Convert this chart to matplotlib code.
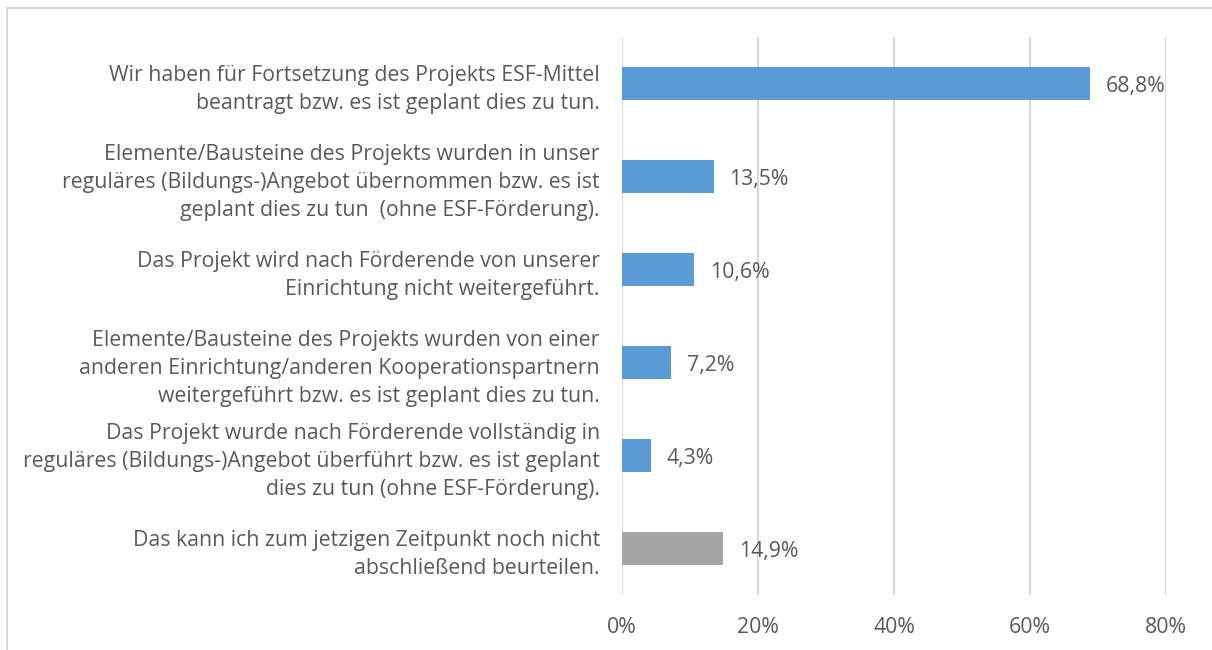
import matplotlib.pyplot as plt
from matplotlib.lines import Line2D

# categories (top to bottom) and values in percent
categories = [
    'Wir haben für Fortsetzung des Projekts ESF-Mittel\nbeantragt bzw. es ist geplant dies zu tun.',
    'Elemente/Bausteine des Projekts wurden in unser\nreguläres (Bildungs-)Angebot übernommen bzw. es ist\ngeplant dies zu tun  (ohne ESF-Förderung).',
    'Das Projekt wird nach Förderende von unserer\nEinrichtung nicht weitergeführt.',
    'Elemente/Bausteine des Projekts wurden von einer\nanderen Einrichtung/anderen Kooperationspartnern\nweitergeführt bzw. es ist geplant dies zu tun.',
    'Das Projekt wurde nach Förderende vollständig in\nreguläres (Bildungs-)Angebot überführt bzw. es ist geplant\ndies zu tun (ohne ESF-Förderung).',
    'Das kann ich zum jetzigen Zeitpunkt noch nicht\nabschließend beurteilen.',
]
values = [68.8, 13.5, 10.6, 7.2, 4.3, 14.9]
bar_colors = ['#5B9BD5'] * 5 + ['#A5A5A5']
x_ticks = [0, 20, 40, 60, 80]
x_tick_labels = ['0%', '20%', '40%', '60%', '80%']

TEXT = '#595959'
FS = 15.3


def main():
    plt.rcParams['font.family'] = ['Open Sans', 'DejaVu Sans']
    fig = plt.figure(figsize=(12.12, 6.5), dpi=100)
    ax = fig.add_axes([622 / 1212, 1 - 595 / 650, 544 / 1212, 558 / 650])

    y = list(range(len(values)))
    ax.barh(y, values, height=0.35, color=bar_colors, zorder=3)
    ax.set_ylim(len(values) - 0.5, -0.5)
    ax.set_xlim(0, 80)

    for yi, v in zip(y, values):
        ax.text(v + 2.3, yi + 0.03, f'{v:.1f}%'.replace('.', ','), va='center',
                ha='left', fontsize=FS, color=TEXT)

    ax.set_yticks(y)
    ax.set_yticklabels(categories, fontsize=FS, color=TEXT, linespacing=1.45)
    ax.set_xticks(x_ticks)
    ax.set_xticklabels(x_tick_labels, fontsize=FS, color=TEXT)
    ax.tick_params(axis='both', length=0)
    ax.tick_params(axis='y', pad=16)
    ax.tick_params(axis='x', pad=16)

    ax.grid(True, axis='x', color='#D9D9D9', linewidth=1.5, zorder=0)
    for s in ax.spines.values():
        s.set_visible(False)

    # outer chart frame (left and top edges visible)
    fig.add_artist(Line2D([7 / 1212, 7 / 1212], [0, 1 - 8 / 650],
                          color='#D9D9D9', linewidth=1.5))
    fig.add_artist(Line2D([7 / 1212, 1], [1 - 8 / 650, 1 - 8 / 650],
                          color='#D9D9D9', linewidth=1.5))

    fig.savefig('out.png', dpi=100)


if __name__ == '__main__':
    main()
